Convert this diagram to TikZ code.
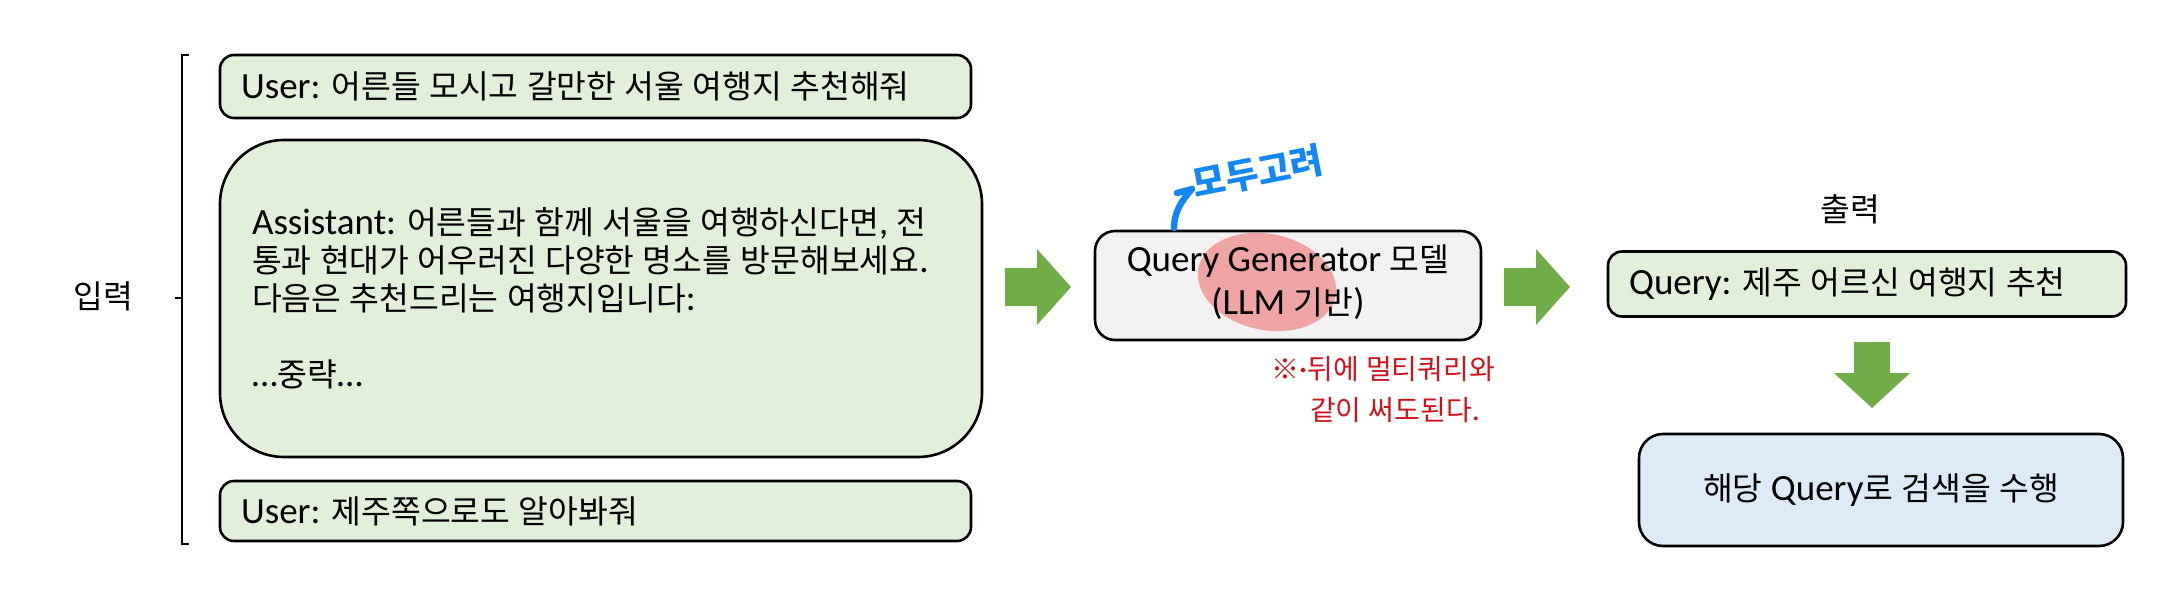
\documentclass[tikz,border=0pt]{standalone}
\usepackage{fontspec}
\setmainfont{Carlito}
\newfontfamily\lat{Carlito}
\newfontfamily\kr[Scale=0.875]{Noto Sans CJK KR}
\newXeTeXintercharclass\krclass
\count255="AC00
\loop
  \XeTeXcharclass\count255=\krclass
  \advance\count255 by 1
\ifnum\count255<"D7A4\relax\repeat
\XeTeXcharclass"203B=\krclass
\XeTeXinterchartoks 0 \krclass={\kr}
\XeTeXinterchartoks 4095 \krclass={\kr}
\XeTeXinterchartoks \krclass 0={\lat}
\XeTeXinterchartoks \krclass 4095={\lat}
\XeTeXinterchartokenstate=1
\definecolor{gfill}{HTML}{E2EFDA}
\definecolor{garrow}{HTML}{70AD47}
\definecolor{grayfill}{HTML}{F2F2F2}
\definecolor{bfill}{HTML}{DEEBF7}
\definecolor{pinkc}{HTML}{F0A5A5}
\definecolor{penblue}{HTML}{1286F5}
\definecolor{penred}{HTML}{D0121B}
\begin{document}
\begin{tikzpicture}[x=0.5pt,y=-0.5pt,
  every node/.style={font=\fontsize{18.5}{19.5}\selectfont, inner sep=0pt},
  gbox/.style={draw=black, line width=1.3pt, fill=gfill, rounded corners=7pt},
  blockarrow/.style={fill=garrow},
  bracketline/.style={draw=black, line width=1.1pt},
  rednote/.style={penred, font=\fontsize{16}{16}\selectfont}]
\useasboundingbox (0,0) rectangle (2160,589);

% bracket and input label
\coordinate (bt) at (189,55);
\coordinate (bb) at (189,544);
\coordinate (bm) at (182,298);
\draw[bracketline] (bt) -- ++(-7,0) |- (bb);
\draw[bracketline] (bm) -- ++(-7,0);
\node (in) at (103,296) {입력};

% input boxes
\node[gbox, minimum width=375.5pt, minimum height=31.5pt] (u1) at (595.5,86.5) {};
\node[anchor=west] (u1t) at ([xshift=11pt]u1.west) {User: 어른들 모시고 갈만한 서울 여행지 추천해줘};

\node[gbox, rounded corners=32pt, minimum width=381pt, minimum height=158.5pt] (as) at (601,298.5) {};
\node[anchor=west, align=left, font=\fontsize{18.5}{19}\selectfont] (ast) at ([xshift=16.5pt]as.west) {Assistant: 어른들과 함께 서울을 여행하신다면, 전\\통과 현대가 어우러진 다양한 명소를 방문해보세요.\\다음은 추천드리는 여행지입니다:\\[19pt]…중략…};

\node[gbox, minimum width=375.5pt, minimum height=30pt] (u3) at (595.5,511) {};
\node[anchor=west] (u3t) at ([xshift=11pt]u3.west) {User: 제주쪽으로도 알아봐줘};

% arrow 1
\fill[blockarrow] (1005,268) -- (1037,268) -- (1037,249) -- (1071,287) -- (1037,325) -- (1037,306) -- (1005,306) -- cycle;

% query generator
\node[draw=black, line width=1.3pt, fill=grayfill, rounded corners=10pt, minimum width=193pt, minimum height=54.5pt] (qg) at (1288,285.5) {};
\fill[pinkc, rotate around={-12:(1267,282)}] (1267,282) ellipse [x radius=70, y radius=48];
\node[align=center, font=\fontsize{18.5}{21.5}\selectfont] (qgt) at (1288,282) {Query Generator 모델\\(LLM 기반)};

% annotations
\draw[penblue, line width=3.2pt, line cap=round, line join=round] (1177,193) -- (1192,189) .. controls (1182,200) and (1174,212) .. (1174,228);
\node[penblue, rotate=11, font=\fontsize{20.5}{20.5}\selectfont\bfseries] (note1) at (1258,172) {모두고려};
\node[rednote] (note2a) at (1383,369) {※·뒤에 멀티쿼리와};
\node[rednote] (note2b) at (1395,410) {같이 써도된다.};

% arrow 2
\fill[blockarrow] (1504,268) -- (1536,268) -- (1536,249) -- (1570,287) -- (1536,325) -- (1536,306) -- (1504,306) -- cycle;

% output
\node (out) at (1850,209) {출력};
\node[gbox, minimum width=259pt, minimum height=32.5pt] (q) at (1867,284) {};
\node[anchor=west] (qt) at ([xshift=11pt]q.west) {Query: 제주 어르신 여행지 추천};

\fill[blockarrow] (1854,342) -- (1890,342) -- (1890,373) -- (1910,373) -- (1872,408) -- (1834,373) -- (1854,373) -- cycle;

\node[draw=black, line width=1.3pt, fill=bfill, rounded corners=12pt, minimum width=242pt, minimum height=56pt] (hb) at (1881,490) {해당 Query로 검색을 수행};
\end{tikzpicture}
\end{document}
